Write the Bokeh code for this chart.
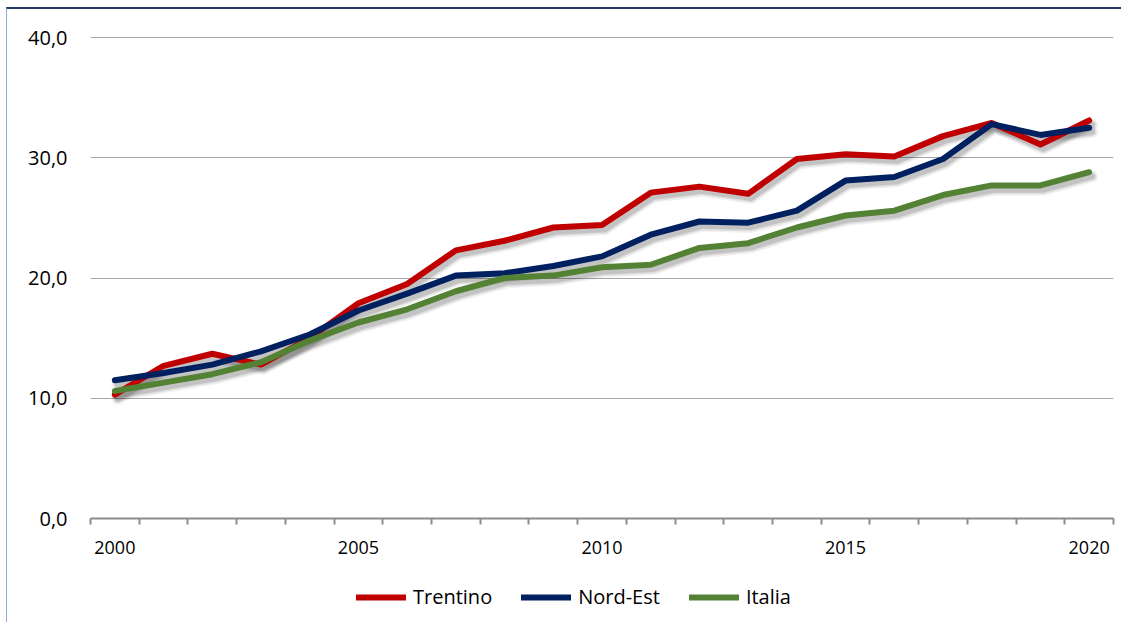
from bokeh.plotting import figure
from bokeh.models import (Range1d, FixedTicker, CustomJSTickFormatter, Legend, LegendItem,
                          ColumnDataSource)
from bokeh.layouts import column
from bokeh.transform import dodge
from bokeh.embed import file_html
from bokeh.resources import INLINE

years = [2000, 2001, 2002, 2003, 2004, 2005, 2006, 2007, 2008, 2009, 2010,
         2011, 2012, 2013, 2014, 2015, 2016, 2017, 2018, 2019, 2020]
trentino = [10.3, 12.7, 13.7, 12.8, 15.0, 17.9, 19.5, 22.3, 23.1, 24.2, 24.4,
            27.1, 27.6, 27.0, 29.9, 30.3, 30.1, 31.8, 32.9, 31.1, 33.1]
nord_est = [11.5, 12.1, 12.8, 13.9, 15.3, 17.3, 18.7, 20.2, 20.4, 21.0, 21.8,
            23.6, 24.7, 24.6, 25.6, 28.1, 28.4, 29.9, 32.8, 31.9, 32.5]
italia = [10.6, 11.3, 12.0, 13.0, 14.8, 16.3, 17.4, 18.9, 20.0, 20.2, 20.9,
          21.1, 22.5, 22.9, 24.2, 25.2, 25.6, 26.9, 27.7, 27.7, 28.8]
series_names = ["Trentino", "Nord-Est", "Italia"]
series_colors = ["#C00000", "#002060", "#548235"]
x_labels = [2000, 2005, 2010, 2015, 2020]
y_ticks = [0, 10, 20, 30, 40]

FONT = "Open Sans"

src = ColumnDataSource(dict(year=years, Trentino=trentino, **{"Nord-Est": nord_est}, Italia=italia))

p = figure(width=1114, height=561, output_backend="svg", toolbar_location=None,
           x_range=Range1d(1999.5, 2020.5), y_range=Range1d(0, 41),
           min_border_left=83, min_border_right=8, min_border_top=16, min_border_bottom=52)
p.outline_line_color = None
p.background_fill_color = "white"
p.border_fill_color = "white"

# soft drop shadows
for name in series_names:
    for w, a in [(12, 0.05), (9, 0.08), (6, 0.12)]:
        p.line(x=dodge("year", 0.06, range=p.x_range), y=dodge(name, -0.35, range=p.y_range),
               source=src, line_color="#000000", line_alpha=a, line_width=w,
               line_join="round", line_cap="round")

for name, col in zip(series_names, series_colors):
    p.line(x="year", y=name, source=src, line_color=col, line_width=6,
           line_join="round", line_cap="round")

# x axis
xa = p.xaxis[0]
xa.ticker = FixedTicker(ticks=x_labels, minor_ticks=[y - 0.5 for y in years] + [years[-1] + 0.5])
xa.axis_line_color = "#8C8C8C"
xa.axis_line_width = 2
xa.major_tick_line_color = None
xa.major_tick_out = 0
xa.major_tick_in = 0
xa.minor_tick_line_color = "#8C8C8C"
xa.minor_tick_line_width = 2
xa.minor_tick_out = 6
xa.minor_tick_in = 0
xa.major_label_standoff = 16
xa.major_label_text_font = FONT
xa.major_label_text_font_size = "18px"
xa.major_label_text_color = "#000000"

# y axis
ya = p.yaxis[0]
ya.ticker = FixedTicker(ticks=y_ticks)
ya.formatter = CustomJSTickFormatter(code="return tick.toFixed(1).replace('.', ',');")
ya.axis_line_color = None
ya.major_tick_line_color = None
ya.minor_tick_line_color = None
ya.major_tick_out = 0
ya.major_tick_in = 0
ya.major_label_standoff = 23
ya.major_label_text_font = FONT
ya.major_label_text_font_size = "20px"
ya.major_label_text_color = "#000000"

p.xgrid.grid_line_color = None
p.ygrid.ticker = FixedTicker(ticks=y_ticks)
p.ygrid.grid_line_color = "#A6A6A6"
p.ygrid.grid_line_width = 1

# legend strip (its own small figure; the series lie outside its ranges)
lg = figure(width=1114, height=52, output_backend="svg", toolbar_location=None,
            x_range=Range1d(0, 1), y_range=Range1d(0, 1),
            x_axis_location=None, y_axis_location=None,
            min_border_left=0, min_border_right=0, min_border_top=0, min_border_bottom=0)
lg.outline_line_color = None
lg.xgrid.visible = False
lg.ygrid.visible = False
lg_renderers = []
for name, col in zip(series_names, series_colors):
    r = lg.line(x="year", y=name, source=src, line_color=col, line_width=6,
                line_join="round", line_cap="round")
    lg_renderers.append(r)

legend = Legend(items=[LegendItem(label=n, renderers=[r]) for n, r in zip(series_names, lg_renderers)],
                orientation="horizontal", location=(266, 12),
                border_line_color=None, background_fill_alpha=0,
                glyph_width=50, glyph_height=20, label_standoff=7, spacing=29,
                padding=5, margin=0,
                label_text_font=FONT, label_text_font_size="20px", label_text_color="#000000")
lg.add_layout(legend, "center")

layout = column(p, lg, spacing=0,
                styles={"margin-left": "6px", "margin-top": "7px",
                        "border-top": "2px solid #1F3864", "border-left": "1px solid #8FAADC"})

open("out.html", "w").write(file_html(layout, INLINE))
